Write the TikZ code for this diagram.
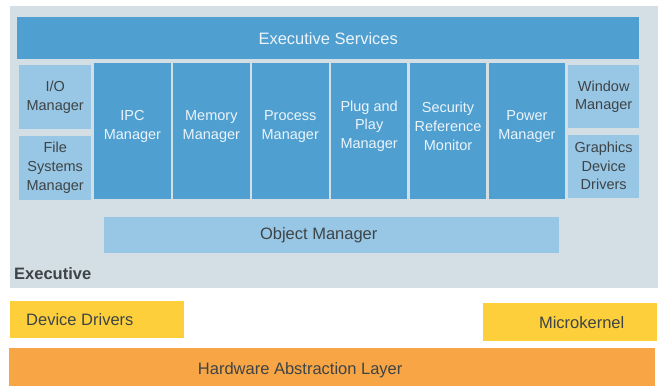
\documentclass[tikz,border=0pt]{standalone}
\usepackage{fontspec}
\setmainfont{Liberation Sans}
\usetikzlibrary{positioning}
\definecolor{execgray}{HTML}{D3DEE5}
\definecolor{darkblue}{HTML}{4F9FD1}
\definecolor{lightblue}{HTML}{98C6E5}
\definecolor{ddyellow}{HTML}{FDD03B}
\definecolor{halorange}{HTML}{F7A545}
\definecolor{darktext}{HTML}{3E4446}
\definecolor{lighttext}{HTML}{ECF4FA}

\begin{document}
\begin{tikzpicture}[x=1pt, y=-1pt,
	box/.style = {rectangle, inner sep=0pt, anchor=north west},
	big/.style = {font=\fontsize{16.5}{19}\selectfont},
	bigbold/.style = {font=\fontsize{16.5}{19}\selectfont\bfseries},
	small/.style = {font=\fontsize{14.5}{18.7}\selectfont, align=center},
	module/.style = {box, fill=darkblue, minimum width=76.5pt, minimum height=136pt,
		label={[small, text=lighttext, yshift=5pt]center:#1}},
	side/.style = {box, fill=lightblue, minimum width=72pt, minimum height=64pt,
		small, text=darktext},
	layer/.style = {box, minimum height=37pt}
	]
	\useasboundingbox (0,0) rectangle (665,386);
	\node (exec) [box, fill=execgray, minimum width=648pt, minimum height=282pt] at (10,6) {};
	\node (services) [box, fill=darkblue, minimum width=622pt, minimum height=42pt,
	big, text=lighttext] at (17,17) {Executive Services};
	% left column
	\node (io) [side] at (19,65) {I/O\\Manager};
	\node (fs) [side, below = 6pt of io] {File\\Systems\\Manager};
	% managers
	\node (ipc) [module={IPC\\Manager}] at (94,63) {};
	\node (mem) [module={Memory\\Manager}, right = 2pt of ipc] {};
	\node (proc) [module={Process\\Manager}, right = 2pt of mem] {};
	\node (pnp) [module={Plug and\\Play\\Manager}, right = 2pt of proc] {};
	\node (srm) [module={Security\\Reference\\Monitor}, right = 2pt of pnp] {};
	\node (power) [module={Power\\Manager}, right = 2pt of srm] {};
	% right column
	\node (win) [side, minimum width=71pt, minimum height=63pt] at (568,65) {Window\\Manager};
	\node (gfx) [side, minimum width=71pt, minimum height=63pt, below = 6pt of win]
	{Graphics\\Device\\Drivers};
	\node (obj) [box, fill=lightblue, minimum width=455pt, minimum height=36pt,
	label={[big, text=darktext, xshift=-13pt]center:Object Manager}] at (104,217) {};
	\node (execlabel) [anchor=base west, inner sep=0pt, bigbold, text=darktext]
	at (14,279) {Executive};
	% lower layers
	\node (dd) [layer, fill=ddyellow, minimum width=174pt,
	label={[big, text=darktext, anchor=west, inner sep=0pt, xshift=16pt]west:Device Drivers}]
	at (10,301) {};
	\node (mk) [layer, fill=ddyellow, minimum width=174pt, minimum height=38pt,
	label={[big, text=darktext, xshift=11.5pt]center:Microkernel}] at (483,303) {};
	\node (hal) [layer, fill=halorange, minimum width=646pt, minimum height=38pt,
	label={[big, text=darktext, xshift=-32pt, yshift=-3pt]center:Hardware Abstraction Layer}]
	at (9,348) {};
\end{tikzpicture}
\end{document}
